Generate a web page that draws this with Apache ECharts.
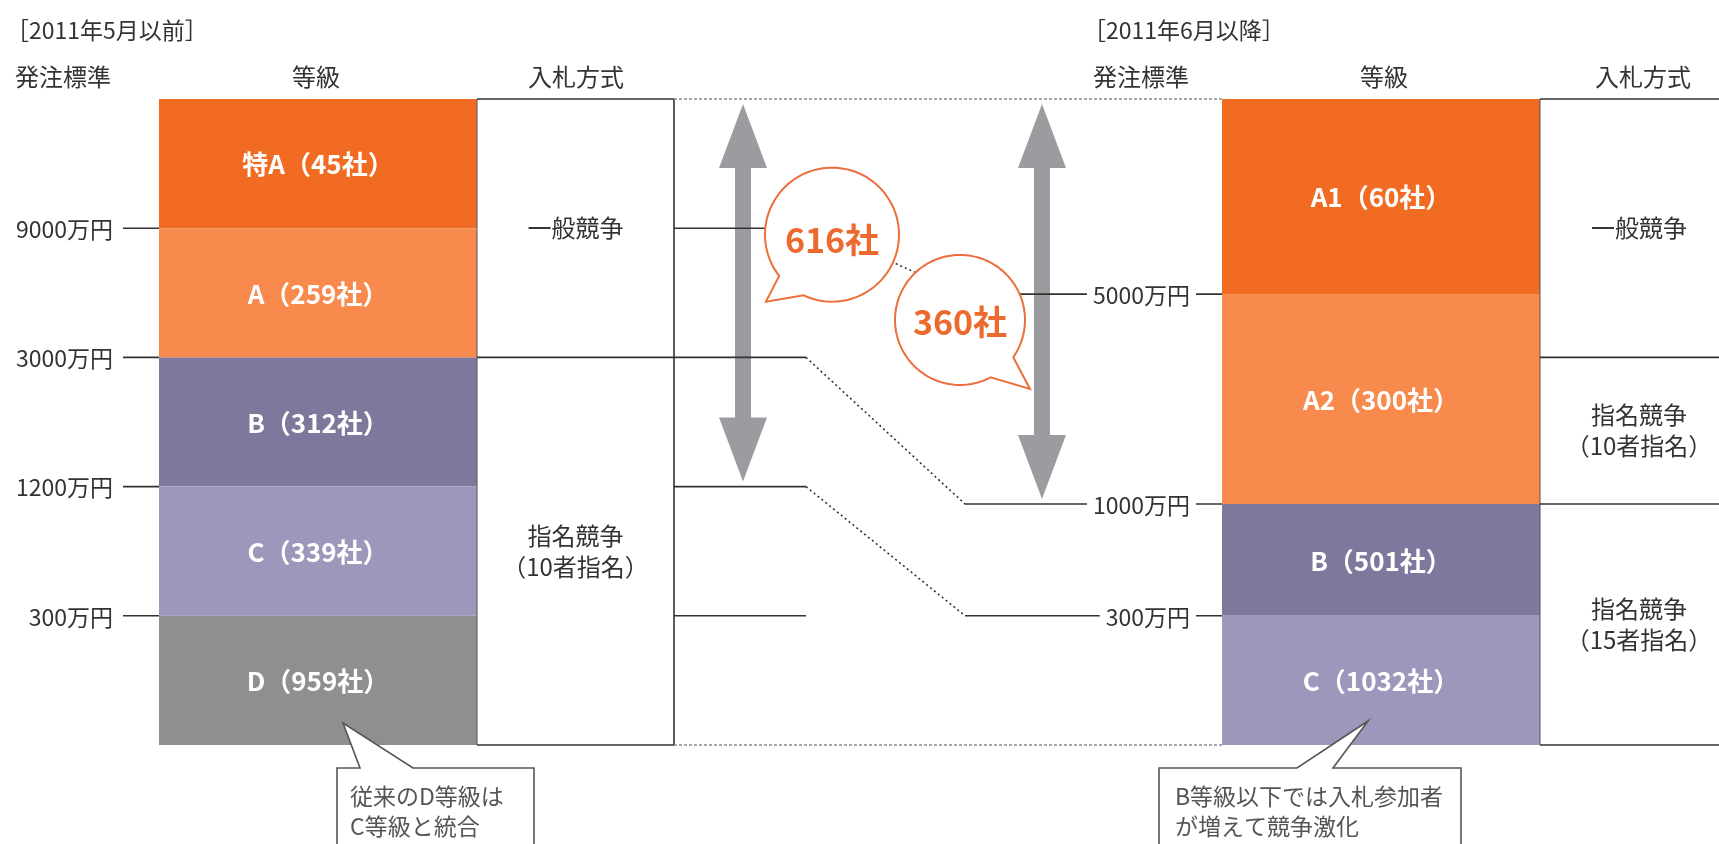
<!DOCTYPE html>
<html>
<head>
<meta charset="utf-8">
<script src="https://cdn.jsdelivr.net/npm/echarts/dist/echarts.min.js"></script>
<style>
html,body{margin:0;padding:0;background:#ffffff;}
#c{width:1719px;height:844px;}
</style>
</head>
<body>
<div id="c"></div>
<script>
// ================= DATA =================
const panelTitles = ['［2011年5月以前］', '［2011年6月以降］'];
const columnHeaders = ['発注標準', '等級', '入札方式'];

// level units: 0 = bottom of the grade column, 5 = top
const oldGrades = ['特A（45社）', 'A（259社）', 'B（312社）', 'C（339社）', 'D（959社）'];
const oldGradeEdges = [5, 4, 3, 2, 1, 0];
const oldThresholdLabels = ['9000万円', '3000万円', '1200万円', '300万円'];
const oldThresholdLevels = [4, 3, 2, 1];
const oldBids = ['一般競争', '指名競争\n（10者指名）'];
const oldBidEdges = [5, 3, 0];

const newGrades = ['A1（60社）', 'A2（300社）', 'B（501社）', 'C（1032社）'];
const newGradeEdges = [5, 3.49, 1.865, 1, 0];
const newThresholdLabels = ['5000万円', '1000万円', '300万円'];
const newThresholdLevels = [3.49, 1.865, 1];
const newBids = ['一般競争', '指名競争\n（10者指名）', '指名競争\n（15者指名）'];
const newBidEdges = [5, 3, 1.865, 0];

const bubbleLabels = ['616社', '360社'];
const noteTexts = ['従来のD等級は\nC等級と統合', 'B等級以下では入札参加者\nが増えて競争激化'];

// ================= LAYOUT / STYLE =================
const FONT = '"Noto Sans CJK JP", "Noto Sans CJK SC", sans-serif';
const TXT = '#333333';
const oldGradeColors = ['#F26B22', '#F78A4C', '#7E789D', '#9D97BC', '#8F8F92'];
const newGradeColors = ['#F26B22', '#F78A4C', '#7E789D', '#9D97BC'];
const X = {
  oldBar: [159, 477], oldBox: [477, 674], newBar: [1222, 1540], newBox: [1540, 1738],
  oldTick: [123, 159], oldLabelRight: 113, newLabelRight: 1196,
  stepA: 806, stepB: 965, arrowOld: 743, arrowNew: 1042
};

// grade bands
const gradeItems = [];
oldGrades.forEach((n, i) => gradeItems.push({name: n, x0: X.oldBar[0], x1: X.oldBar[1], top: oldGradeEdges[i], bottom: oldGradeEdges[i + 1], color: oldGradeColors[i]}));
newGrades.forEach((n, i) => gradeItems.push({name: n, x0: X.newBar[0], x1: X.newBar[1], top: newGradeEdges[i], bottom: newGradeEdges[i + 1], color: newGradeColors[i]}));

// bid method texts
const bidItems = [];
oldBids.forEach((t, i) => bidItems.push({text: t, x: (X.oldBox[0] + X.oldBox[1]) / 2, top: oldBidEdges[i], bottom: oldBidEdges[i + 1]}));
newBids.forEach((t, i) => bidItems.push({text: t, x: 1639, top: newBidEdges[i], bottom: newBidEdges[i + 1]}));

// line segments
const DARK = '#333333', GREY = '#8a8a8a';
const segs = [];
const LTOP = oldGradeEdges[0], LBOT = oldGradeEdges[oldGradeEdges.length - 1];
// old bid box
segs.push({x0: X.oldBox[0], l0: LTOP, x1: X.oldBox[1], l1: LTOP});
segs.push({x0: X.oldBox[0], l0: LBOT, x1: X.oldBox[1], l1: LBOT});
segs.push({x0: X.oldBox[0], l0: LBOT, x1: X.oldBox[0], l1: LTOP, w: 1, c: '#555'});
segs.push({x0: X.oldBox[1], l0: LBOT, x1: X.oldBox[1], l1: LTOP});
oldBidEdges.slice(1, -1).forEach(l => segs.push({x0: X.oldBox[0], l0: l, x1: X.oldBox[1], l1: l}));
// old ticks
oldThresholdLevels.forEach(l => segs.push({x0: X.oldTick[0], l0: l, x1: X.oldTick[1], l1: l}));
// old threshold extensions
segs.push({x0: X.oldBox[1], l0: oldThresholdLevels[0], x1: 800, l1: oldThresholdLevels[0]});
oldThresholdLevels.slice(1).forEach(l => segs.push({x0: X.oldBox[1], l0: l, x1: X.stepA, l1: l}));
segs.push({x0: X.stepA, l0: oldThresholdLevels[1], x1: X.stepB, l1: newThresholdLevels[1], dash: [2, 3]});
segs.push({x0: X.stepA, l0: oldThresholdLevels[2], x1: X.stepB, l1: newThresholdLevels[2], dash: [2, 3]});
segs.push({x0: X.stepB, l0: newThresholdLevels[1], x1: X.newBar[0], l1: newThresholdLevels[1]});
segs.push({x0: X.stepB, l0: newThresholdLevels[2], x1: X.newBar[0], l1: newThresholdLevels[2]});
segs.push({x0: 990, l0: newThresholdLevels[0], x1: X.newBar[0], l1: newThresholdLevels[0]});
// dotted link between the two bubbles
segs.push({x0: 832, l0: 3.95, x1: 1000, l1: 3.36, dash: [2, 3]});
// middle top / bottom dotted
segs.push({x0: X.oldBox[1], l0: LTOP, x1: X.newBar[0], l1: LTOP, dash: [3, 2], c: GREY, w: 1.5});
segs.push({x0: X.oldBox[1], l0: LBOT, x1: X.newBar[0], l1: LBOT, dash: [3, 2], c: GREY, w: 1.5});
// new bid box
segs.push({x0: X.newBox[0], l0: LBOT, x1: X.newBox[0], l1: LTOP, w: 1, c: '#555'});
newBidEdges.forEach(l => segs.push({x0: X.newBox[0], l0: l, x1: X.newBox[1], l1: l}));

// threshold labels
const thrItems = [];
oldThresholdLabels.forEach((t, i) => thrItems.push({text: t, x: X.oldLabelRight, level: oldThresholdLevels[i], bg: null}));
newThresholdLabels.forEach((t, i) => thrItems.push({text: t, x: X.newLabelRight, level: newThresholdLevels[i], bg: '#ffffff'}));

// arrows
const arrows = [
  {x: X.arrowOld, from: LTOP, to: oldThresholdLevels[2]},
  {x: X.arrowNew, from: LTOP, to: newThresholdLevels[1]}
];

// bubbles
const bubbles = [
  {text: bubbleLabels[0], x: 832, level: 3.95, r: 67, a1: 115, a2: 142, tip: [-66, 67], ty: 5},
  {text: bubbleLabels[1], x: 960, level: 3.29, r: 65, a1: 35, a2: 62, tip: [70, 69], ty: 2}
];

// callouts (offsets in px relative to grade column bottom)
const notes = [
  {text: noteTexts[0], x0: 337, x1: 534, ta: 360, tb: 413, tipX: 343, tipDy: -22, tx: 350},
  {text: noteTexts[1], x0: 1159, x1: 1461, ta: 1297, tb: 1333, tipX: 1368, tipDy: -24, tx: 1175}
];

const idx = arr => arr.map((d, i) => [i, 0]);

function renderGrade(params, api) {
  const d = gradeItems[params.dataIndex];
  const a = api.coord([d.x0, d.top]), b = api.coord([d.x1, d.bottom]);
  return {type: 'group', children: [
    {type: 'rect', shape: {x: a[0], y: a[1], width: b[0] - a[0], height: b[1] - a[1]}, style: {fill: d.color}},
    {type: 'text', x: (a[0] + b[0]) / 2, y: (a[1] + b[1]) / 2 + 1,
     style: {text: d.name, fill: '#ffffff', font: 'bold 26px ' + FONT, align: 'center', verticalAlign: 'middle', textAlign: 'center', textVerticalAlign: 'middle'}}
  ]};
}
function renderSeg(params, api) {
  const s = segs[params.dataIndex];
  const a = api.coord([s.x0, s.l0]), b = api.coord([s.x1, s.l1]);
  return {type: 'line', shape: {x1: a[0], y1: a[1], x2: b[0], y2: b[1]},
    style: {stroke: s.c || DARK, lineWidth: s.w || 1.6, lineDash: s.dash || null, fill: null}};
}
function renderBid(params, api) {
  const d = bidItems[params.dataIndex];
  const a = api.coord([d.x, d.top]), b = api.coord([d.x, d.bottom]);
  return {type: 'text', x: a[0], y: (a[1] + b[1]) / 2,
    style: {text: d.text, fill: TXT, font: '24px ' + FONT, lineHeight: 31, align: 'center', verticalAlign: 'middle', textAlign: 'center', textVerticalAlign: 'middle'}};
}
function renderThr(params, api) {
  const d = thrItems[params.dataIndex];
  const p = api.coord([d.x, d.level]);
  const st = {text: d.text, fill: TXT, font: '23px ' + FONT, align: 'right', verticalAlign: 'middle', textAlign: 'right', textVerticalAlign: 'middle'};
  if (d.bg) { st.backgroundColor = d.bg; st.padding = [2, 6, 2, 6]; }
  return {type: 'text', x: p[0], y: p[1] + 1, style: st};
}
function renderArrow(params, api) {
  const d = arrows[params.dataIndex];
  const t = api.coord([d.x, d.from]), bt = api.coord([d.x, d.to]);
  const cx = t[0], ty = t[1] + 5, by = bt[1] - 5, hw = 24, hl = 64, sw = 8;
  return {type: 'polygon', shape: {points: [[cx, ty], [cx + hw, ty + hl], [cx + sw, ty + hl], [cx + sw, by - hl], [cx + hw, by - hl], [cx, by],
    [cx - hw, by - hl], [cx - sw, by - hl], [cx - sw, ty + hl], [cx - hw, ty + hl]]}, style: {fill: '#9C9CA0'}};
}
function renderBubble(params, api) {
  const d = bubbles[params.dataIndex];
  const c = api.coord([d.x, d.level]);
  const pts = [];
  const end = d.a1 + 360;
  for (let a = d.a2; a < end; a += 3) {
    const r = a * Math.PI / 180; pts.push([c[0] + d.r * Math.cos(r), c[1] + d.r * Math.sin(r)]);
  }
  const re = end * Math.PI / 180; pts.push([c[0] + d.r * Math.cos(re), c[1] + d.r * Math.sin(re)]);
  pts.push([c[0] + d.tip[0], c[1] + d.tip[1]]);
  return {type: 'group', children: [
    {type: 'polygon', shape: {points: pts}, style: {fill: '#ffffff', stroke: '#EC6E3A', lineWidth: 2}},
    {type: 'text', x: c[0], y: c[1] + d.ty, style: {text: d.text, fill: '#EC6A2E', font: 'bold 34px ' + FONT, align: 'center', verticalAlign: 'middle', textAlign: 'center', textVerticalAlign: 'middle'}}
  ]};
}
function renderNote(params, api) {
  const d = notes[params.dataIndex];
  const y0 = api.coord([d.x0, LBOT])[1];
  const bt = y0 + 23, bb = y0 + 110;
  const pts = [[d.x0, bt], [d.ta, bt], [d.tipX, y0 + d.tipDy], [d.tb, bt], [d.x1, bt], [d.x1, bb], [d.x0, bb]];
  return {type: 'group', children: [
    {type: 'polygon', shape: {points: pts}, style: {fill: '#ffffff', stroke: '#555555', lineWidth: 1.6}},
    {type: 'text', x: d.tx, y: bt + 13, style: {text: d.text, fill: '#555555', font: '23px ' + FONT, lineHeight: 30, align: 'left', verticalAlign: 'top', textAlign: 'left', textVerticalAlign: 'top'}}
  ]};
}

function custom(name, data, fn, z) {
  return {type: 'custom', name: name, coordinateSystem: 'cartesian2d', data: idx(data), renderItem: fn, z: z, clip: false, silent: true, animation: false};
}

function gtext(text, x, y, size, align, color) {
  return {type: 'text', x: x, y: y, z: 10, style: {text: text, fill: color || TXT, font: size + 'px ' + FONT, align: align, verticalAlign: 'middle', textAlign: align, textVerticalAlign: 'middle'}};
}

const option = {
  animation: false,
  backgroundColor: '#ffffff',
  grid: {left: 0, right: 0, top: 99, bottom: 99, containLabel: false},
  xAxis: {type: 'value', min: 0, max: 1719, show: false},
  yAxis: {type: 'value', min: 0, max: 5, show: false},
  graphic: [
    gtext(panelTitles[0], 6, 30, 23, 'left'),
    gtext(panelTitles[1], 1083, 30, 23, 'left'),
    gtext(columnHeaders[0], 15, 77, 24, 'left'),
    gtext(columnHeaders[1], 316, 77, 24, 'center'),
    gtext(columnHeaders[2], 576, 77, 24, 'center'),
    gtext(columnHeaders[0], 1093, 77, 24, 'left'),
    gtext(columnHeaders[1], 1384, 77, 24, 'center'),
    gtext(columnHeaders[2], 1643, 77, 24, 'center')
  ],
  series: [
    custom('grades', gradeItems, renderGrade, 1),
    custom('arrows', arrows, renderArrow, 2),
    custom('lines', segs, renderSeg, 3),
    custom('bubbles', bubbles, renderBubble, 4),
    custom('thresholds', thrItems, renderThr, 5),
    custom('bids', bidItems, renderBid, 5),
    custom('notes', notes, renderNote, 6)
  ]
};

const chart = echarts.init(document.getElementById('c'), null, {renderer: 'canvas'});
chart.setOption(option);
</script>
</body>
</html>
